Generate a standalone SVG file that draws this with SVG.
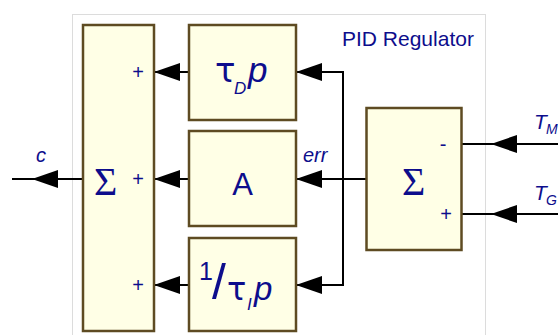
<svg xmlns="http://www.w3.org/2000/svg" width="558" height="335" viewBox="0 0 558 335">
<style>
.blk{fill:#ffffe6;stroke:#5e4b22;stroke-width:2.5}
.ln{fill:none;stroke:#000;stroke-width:2}
.t{font-family:"Liberation Sans",Arial,sans-serif;fill:#0d0d8c}
.g{font-family:"DejaVu Sans",sans-serif;fill:#0d0d8c}
.i{font-style:italic}
.sg{font-family:"Liberation Serif","Times New Roman",serif;fill:#0d0d8c;font-size:40px}
.pm{font-family:"Liberation Sans",Arial,sans-serif;fill:#0d0d8c;font-size:20px;text-anchor:middle}
</style>
<defs>
<path id="ah" d="M0,0 L26,-9 L26,9 Z" fill="#000"/>
</defs>
<rect x="72.5" y="14.5" width="413" height="330" fill="#fff" stroke="#dcdcdc" stroke-width="1"/>
<text class="t" x="342" y="46" font-size="21">PID Regulator</text>

<g id="connectors">
<line class="ln" x1="12" y1="179" x2="83" y2="179"/>
<use href="#ah" x="32" y="179"/>
<line class="ln" x1="154" y1="72" x2="189" y2="72"/>
<use href="#ah" x="154" y="72"/>
<line class="ln" x1="154" y1="179" x2="189" y2="179"/>
<use href="#ah" x="154" y="179"/>
<line class="ln" x1="154" y1="285" x2="189" y2="285"/>
<use href="#ah" x="154" y="285"/>
<polyline class="ln" points="296,72 343,72 343,285 296,285"/>
<use href="#ah" x="296" y="72"/>
<use href="#ah" x="296" y="285"/>
<line class="ln" x1="296" y1="179" x2="366" y2="179"/>
<use href="#ah" x="296" y="179"/>
<line class="ln" x1="462" y1="144" x2="558" y2="144"/>
<use href="#ah" x="491" y="144"/>
<line class="ln" x1="462" y1="214" x2="558" y2="214"/>
<use href="#ah" x="491" y="214"/>
</g>

<text class="t i" x="36" y="162" font-size="20">c</text>
<text class="t i" x="303" y="162" font-size="20">err</text>
<g id="lbl-tm"><text class="t i" x="534" y="129" font-size="21">T</text><text class="t i" x="546" y="134" font-size="14">M</text></g>
<g id="lbl-tg"><text class="t i" x="534" y="200" font-size="21">T</text><text class="t i" x="546" y="205" font-size="14">G</text></g>

<g id="sum-out">
<rect class="blk" x="83" y="25" width="71" height="306"/>
<text class="sg" x="94" y="195">Σ</text>
<text class="pm" x="138" y="79">+</text>
<text class="pm" x="138" y="186">+</text>
<text class="pm" x="138" y="292">+</text>
</g>

<g id="deriv">
<rect class="blk" x="189" y="25" width="107" height="95"/>
<text class="g" x="215" y="82" font-size="34">τ</text>
<text class="t i" x="234" y="94" font-size="17">D</text>
<text class="t i" x="248" y="82" font-size="35">p</text>
</g>

<g id="prop">
<rect class="blk" x="189" y="131" width="107" height="95"/>
<text class="t" x="242.5" y="195" font-size="31" text-anchor="middle">A</text>
</g>

<g id="integ">
<rect class="blk" x="189" y="238" width="107" height="93"/>
<text class="t" x="199" y="280" font-size="25">1</text>
<text class="t" x="212" y="299" font-size="50">/</text>
<text class="g" x="227" y="300" font-size="32">τ</text>
<text class="t i" x="247" y="310" font-size="17">I</text>
<text class="t i" x="254" y="300" font-size="33">p</text>
</g>

<g id="sum-err">
<rect class="blk" x="366.5" y="108" width="95" height="142"/>
<text class="sg" x="402" y="195">Σ</text>
<text class="pm" x="443" y="151">-</text>
<text class="pm" x="446" y="221">+</text>
</g>
</svg>
